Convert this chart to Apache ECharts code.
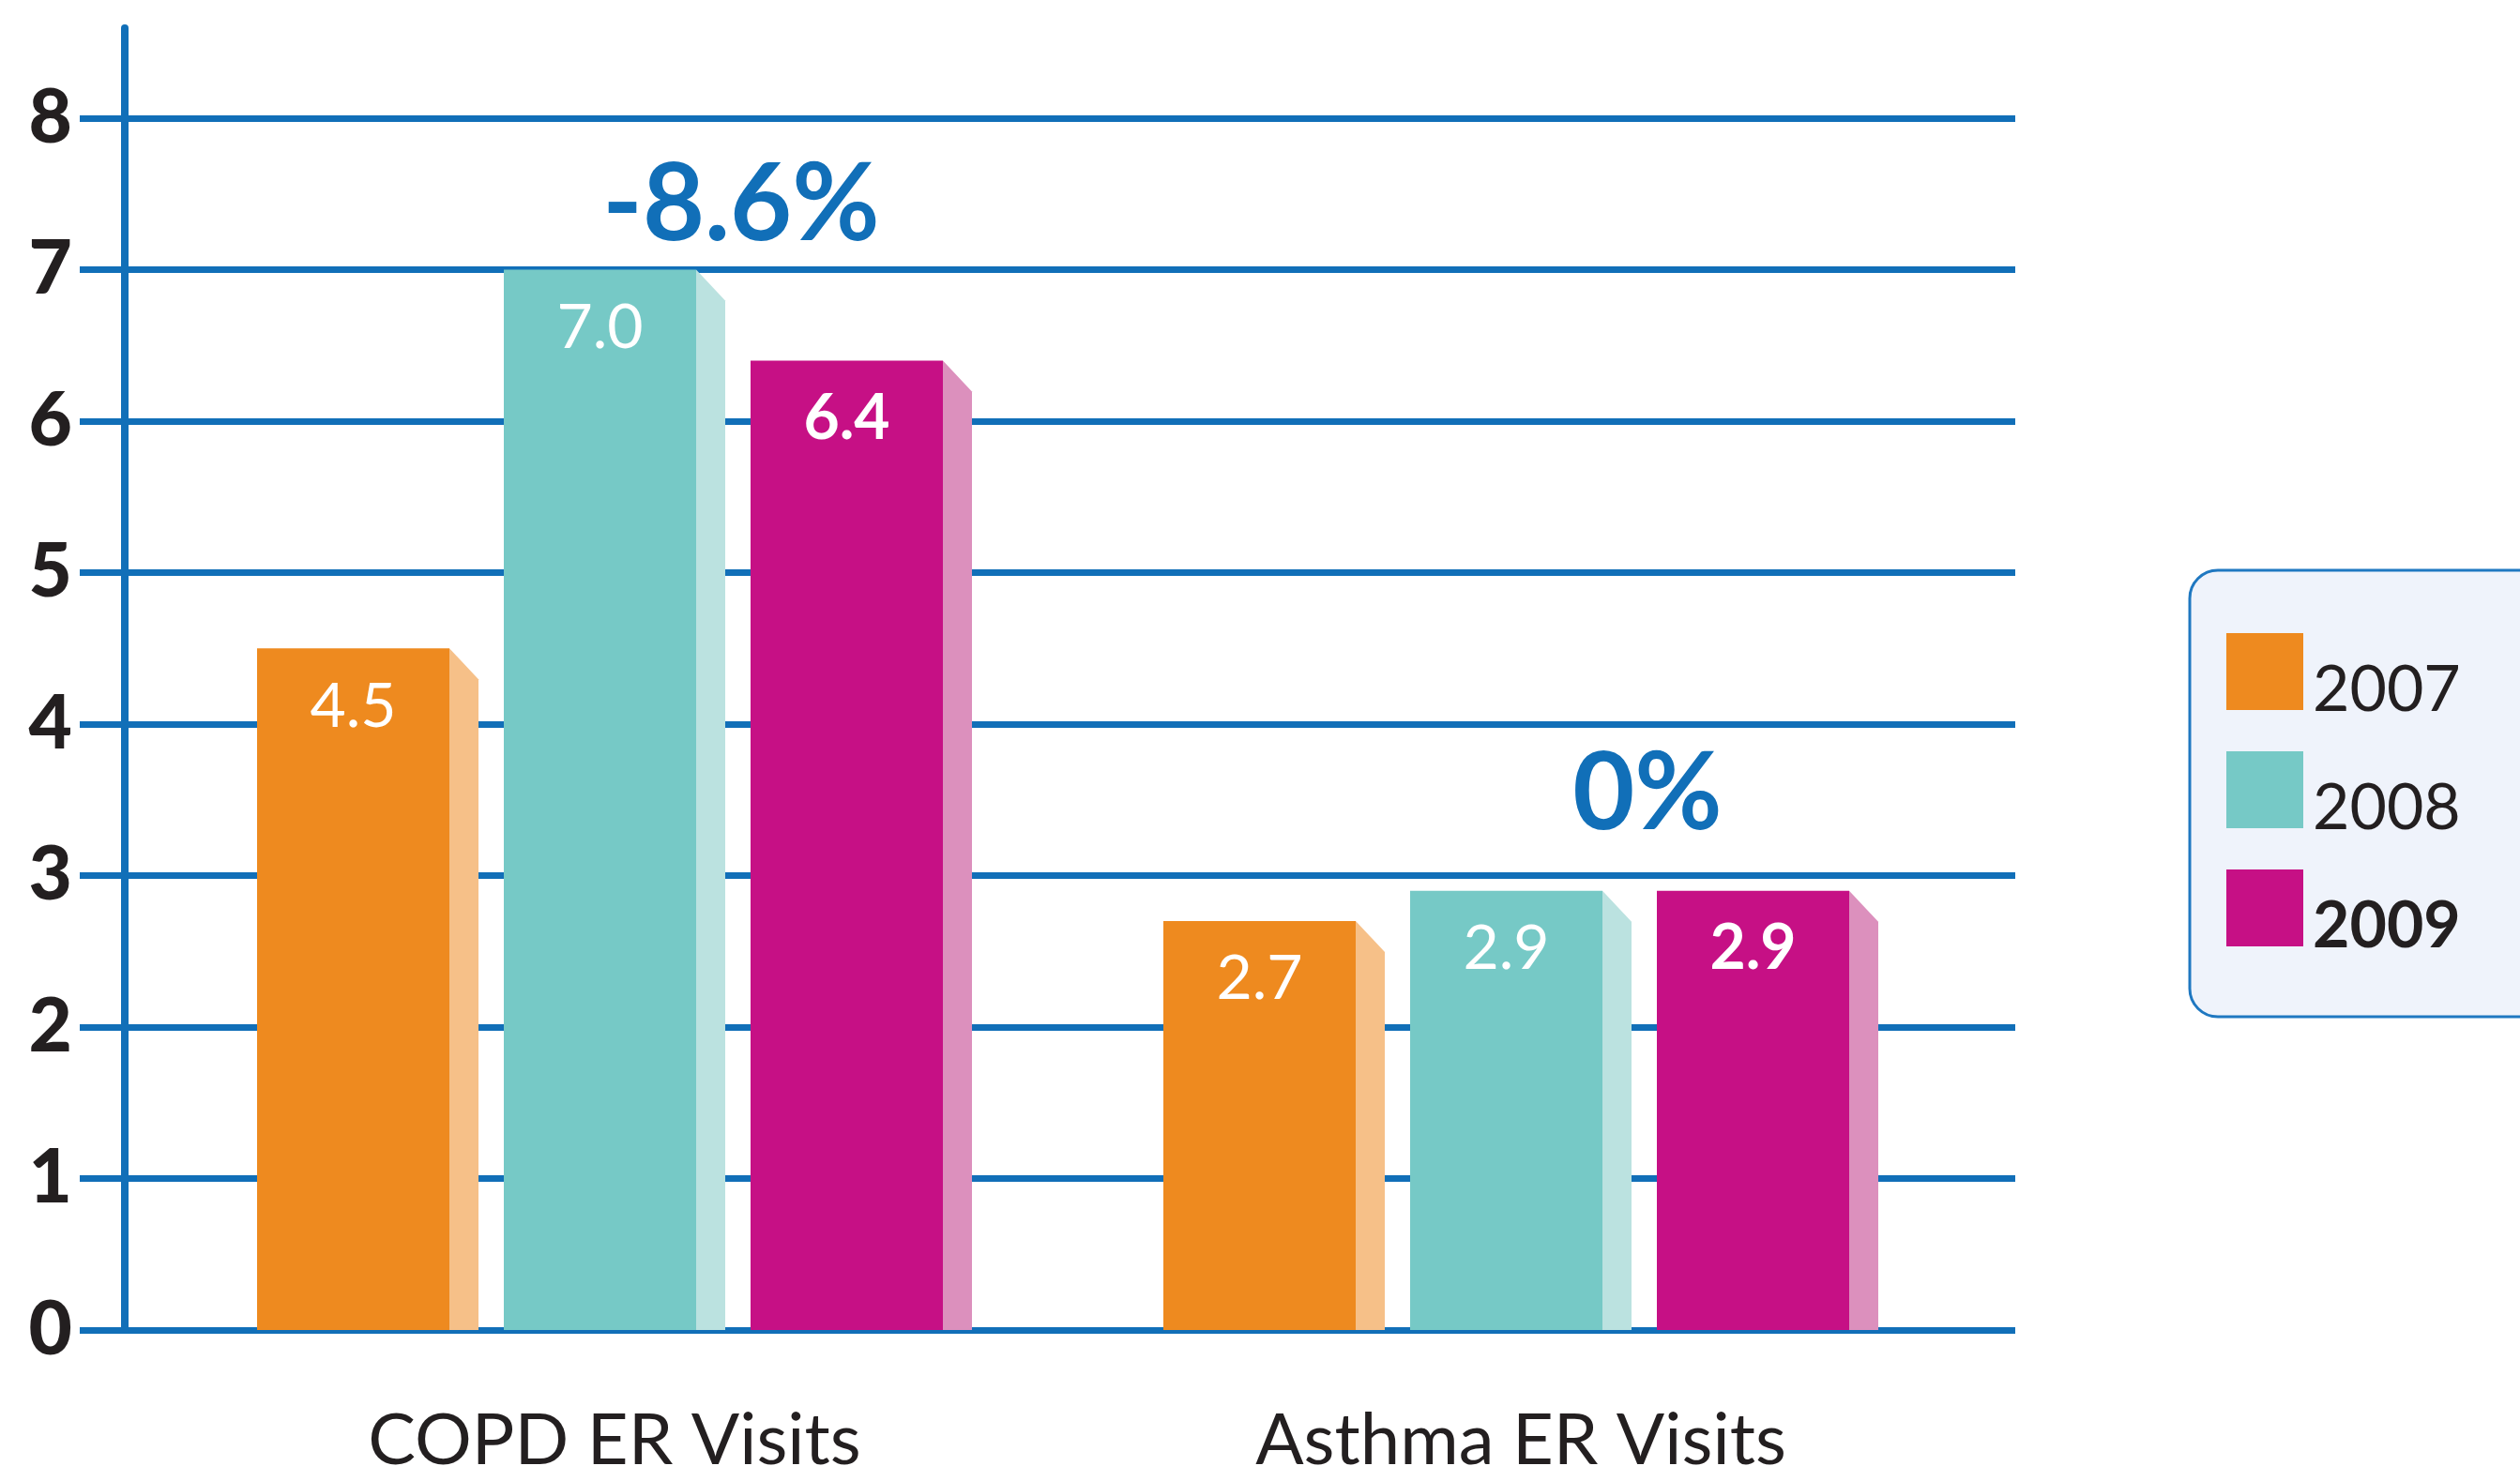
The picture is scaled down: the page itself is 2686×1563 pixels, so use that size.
<!DOCTYPE html>
<html>
<head>
<meta charset="utf-8">
<script src="https://cdn.jsdelivr.net/npm/echarts@6/dist/echarts.min.js"></script>
<style>
  html, body { margin: 0; padding: 0; background: #fff; }
  #chart { width: 2686px; height: 1563px; }
</style>
</head>
<body>
<div id="chart"></div>
<script>
// data
const categories = ['COPD ER Visits', 'Asthma ER Visits'];
const years = ['2007', '2008', '2009'];
const values2007 = [4.5, 2.7];
const values2008 = [7.0, 2.9];
const values2009 = [6.4, 2.9];
const changeLabels = ['-8.6%', '0%'];
const yTicks = [0, 1, 2, 3, 4, 5, 6, 7, 8];

const BLUE = '#116fb8';
const INK = '#231f20';
const FONT = 'Lato, "Noto Sans", sans-serif';

const fronts = ['#ee8a1f', '#76c9c6', '#c61085'];
const sides = ['#f6c088', '#bbe2e0', '#dc90bd'];
const labelWeights = ['normal', 'normal', 'bold'];

const seriesValues = [values2007, values2008, values2009];

// one bar = front face + slanted side face + value label
function barRenderer(si) {
  return function (params, api) {
    const cat = api.value(0);
    const val = api.value(1);
    const base = api.coord([cat, 0]);
    const top = api.coord([cat, val])[1];
    const k = api.size([1, 0])[0] / 966;
    const fw = 205 * k;
    const dx = 31 * k;
    const dy = 33 * k;
    const left = base[0] - 381 * k + si * 263 * k;
    const right = left + fw;
    return {
      type: 'group',
      children: [
        {
          type: 'polygon',
          shape: {points: [[right, top], [right + dx, top + dy], [right + dx, base[1]], [right, base[1]]]},
          style: {fill: sides[si]},
        },
        {
          type: 'rect',
          shape: {x: left, y: top, width: fw, height: base[1] - top},
          style: {fill: fronts[si]},
        },
        {
          type: 'text',
          style: {
            text: val.toFixed(1),
            x: left + fw / 2,
            y: top + 62,
            fill: '#fff',
            fontSize: 66,
            fontFamily: FONT,
            fontWeight: labelWeights[si],
            align: 'center',
            verticalAlign: 'middle',
          },
        },
      ],
    };
  };
}

const annoOffset = [68, 102];

function annoRenderer(params, api) {
  const cat = api.value(0);
  const maxVal = api.value(1);
  const c = api.coord([cat, maxVal]);
  const k = api.size([1, 0])[0] / 966;
  return {
    type: 'text',
    style: {
      text: changeLabels[params.dataIndex],
      x: c[0] + 135 * k,
      y: c[1] - annoOffset[params.dataIndex],
      fill: BLUE,
      fontSize: 114,
      fontFamily: FONT,
      fontWeight: 'bold',
      align: 'center',
      verticalAlign: 'middle',
    },
  };
}

const barSeries = years.map((name, si) => ({
  name: name,
  type: 'custom',
  xAxisIndex: 1,
  yAxisIndex: 1,
  itemStyle: {color: fronts[si]},
  renderItem: barRenderer(si),
  data: categories.map((c, ci) => [ci, seriesValues[si][ci]]),
  z: 3,
}));

const annoSeries = {
  type: 'custom',
  xAxisIndex: 1,
  yAxisIndex: 1,
  renderItem: annoRenderer,
  data: categories.map((c, ci) => [ci, Math.max(values2007[ci], values2008[ci], values2009[ci])]),
  z: 4,
};

const legendRich = {
  t: {fontSize: 68, fontFamily: FONT, color: INK, lineHeight: 52, padding: [40, 0, 0, 5]},
  b: {fontSize: 68, fontFamily: FONT, color: INK, fontWeight: 'bold', lineHeight: 52, padding: [40, 0, 0, 5]},
};

const chart = echarts.init(document.getElementById('chart'));

chart.setOption({
  animation: false,
  backgroundColor: '#fff',
  grid: [
    // gridlines, ticks, y labels
    {left: 133, right: 538, top: 126, bottom: 145, outerBoundsMode: 'none'},
    // bars
    {left: 172, right: 582, top: 126, bottom: 145, outerBoundsMode: 'none'},
    // tall y axis line
    {left: 133, width: 1, top: 30, bottom: 145, outerBoundsMode: 'none'},
  ],
  xAxis: [
    {gridIndex: 0, type: 'value', show: false},
    {
      gridIndex: 1,
      type: 'category',
      data: categories,
      axisLine: {show: false},
      axisTick: {show: false},
      axisLabel: {
        margin: 80,
        fontSize: 76,
        fontFamily: FONT,
        color: INK,
      },
    },
    {gridIndex: 2, type: 'value', show: false},
  ],
  yAxis: [
    {
      gridIndex: 0,
      type: 'value',
      min: yTicks[0],
      max: yTicks[yTicks.length - 1],
      interval: 1,
      axisLine: {show: false},
      axisTick: {show: true, length: 48, lineStyle: {color: BLUE, width: 7}},
      splitLine: {show: true, lineStyle: {color: BLUE, width: 7}},
      axisLabel: {
        margin: 56,
        fontSize: 80,
        fontWeight: 900,
        fontFamily: FONT,
        color: INK,
      },
    },
    {
      gridIndex: 1,
      type: 'value',
      min: yTicks[0],
      max: yTicks[yTicks.length - 1],
      show: false,
    },
    {
      gridIndex: 2,
      type: 'value',
      min: 0,
      max: 8.6,
      axisLine: {show: true, lineStyle: {color: BLUE, width: 8}},
      axisTick: {show: false},
      axisLabel: {show: false},
      splitLine: {show: false},
    },
  ],
  legend: {
    orient: 'vertical',
    left: 2334,
    top: 608,
    padding: [54, 130, 62, 39],
    itemWidth: 82,
    itemHeight: 82,
    itemGap: 18,
    icon: 'rect',
    backgroundColor: '#eff3fb',
    borderColor: '#1f78c1',
    borderWidth: 3,
    borderRadius: 30,
    selectedMode: false,
    formatter: (name) => (name === '2009' ? '{b|' + name + '}' : '{t|' + name + '}'),
    textStyle: {rich: legendRich},
    data: years,
  },
  series: barSeries.concat([annoSeries]),
});
</script>
</body>
</html>
